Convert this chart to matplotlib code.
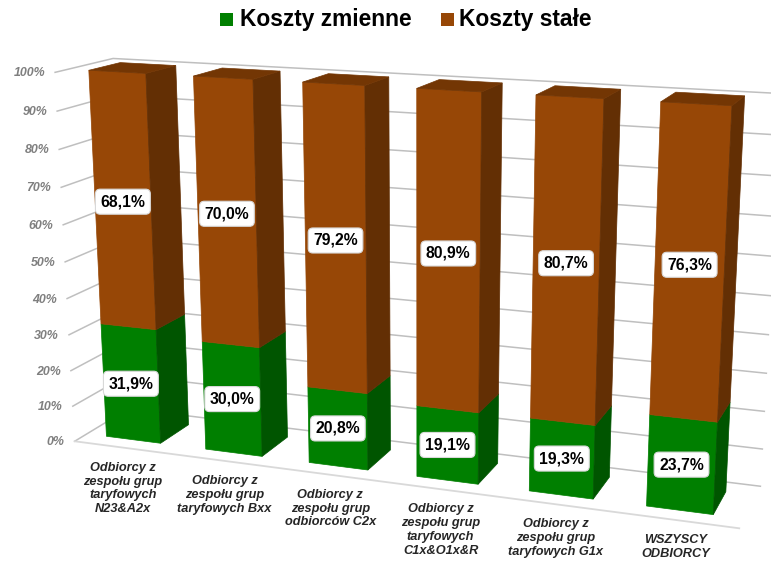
import numpy as np
import matplotlib
matplotlib.use('Agg')
import matplotlib.pyplot as plt
from matplotlib.patches import Polygon, Rectangle

categories = ['Odbiorcy z\nzespołu grup\ntaryfowych\nN23&A2x',
              'Odbiorcy z\nzespołu grup\ntaryfowych Bxx',
              'Odbiorcy z\nzespołu grup\nodbiorców C2x',
              'Odbiorcy z\nzespołu grup\ntaryfowych\nC1x&O1x&R',
              'Odbiorcy z\nzespołu grup\ntaryfowych G1x',
              'WSZYSCY\nODBIORCY']
koszty_zmienne = [31.9, 30.0, 20.8, 19.1, 19.3, 23.7]
koszty_stale = [68.1, 70.0, 79.2, 80.9, 80.7, 76.3]
y_ticks = [0, 10, 20, 30, 40, 50, 60, 70, 80, 90, 100]

plt.rcParams['font.family'] = ['Liberation Sans', 'DejaVu Sans']

# 3D look: camera fitted from the chart box and bar corners (category, depth, percent) -> pixel
BAR_X0, BAR_X1 = 0.20, 0.75
BAR_Z0, BAR_Z1 = 0.22, 0.77
calib = [((0, 0, 0), (73, 440)), ((6, 0, 0), (737, 528)), ((0, 1, 0), (128, 410)),
         ((6, 1, 0), (758, 486)), ((0, 0, 100), (53, 72)), ((0, 1, 100), (112, 58)),
         ((6, 1, 100), (779, 92)),
         ((BAR_X0, BAR_Z0, 0), (106, 436)), ((BAR_X1, BAR_Z0, 0), (162, 443)),
         ((BAR_X1, BAR_Z1, 0), (190, 424)), ((BAR_X0, BAR_Z0, 100), (89, 71)),
         ((BAR_X1, BAR_Z0, 100), (148, 74)), ((BAR_X1, BAR_Z1, 100), (177, 66)),
         ((5 + BAR_X0, BAR_Z0, 0), (647, 507)), ((5 + BAR_X1, BAR_Z0, 0), (715, 515)),
         ((5 + BAR_X1, BAR_Z1, 0), (728, 492)), ((5 + BAR_X0, BAR_Z0, 100), (660, 102)),
         ((5 + BAR_X1, BAR_Z0, 100), (733, 106)), ((5 + BAR_X1, BAR_Z1, 100), (746, 96))]

rows = []
for (wx, wz, wv), (px, py) in calib:
    w = [wx / 6, wz, wv / 100, 1]
    px, py = px / 771, py / 562
    rows.append(w + [0, 0, 0, 0] + [-px * c for c in w])
    rows.append([0, 0, 0, 0] + w + [-py * c for c in w])
cam = np.linalg.svd(np.array(rows))[2][-1].reshape(3, 4)


def proj(x, z, v):
    p = cam @ np.array([x / 6, z, v / 100, 1])
    return p[0] / p[2] * 771, p[1] / p[2] * 562


fig = plt.figure(figsize=(7.71, 5.62), dpi=100)
ax = fig.add_axes([0, 0, 1, 1])
ax.set_xlim(0, 771)
ax.set_ylim(562, 0)
ax.axis('off')

# walls
grid_c = '#bfbfbf'
for t in y_ticks:
    a, b, c = proj(0, 0, t), proj(0, 1, t), proj(6, 1, t)
    ax.plot([a[0], b[0], c[0]], [a[1], b[1], c[1]], color=grid_c, lw=1.1, zorder=1)
    ax.text(a[0] - 10, a[1] + 1, '%d%%' % t, ha='right', va='center', fontsize=8.9,
            fontweight='bold', fontstyle='italic', color='#7f7f7f')
a, b = proj(0, 0, 0), proj(6, 0, 0)
ax.plot([a[0], b[0]], [a[1], b[1]], color='#d9d9d9', lw=1.3, zorder=1)


def box(i, v0, v1, front, side, top=None):
    x0, x1 = i + BAR_X0, i + BAR_X1
    z0, z1 = BAR_Z0, BAR_Z1
    ax.add_patch(Polygon([proj(x0, z0, v0), proj(x1, z0, v0), proj(x1, z0, v1), proj(x0, z0, v1)],
                         fc=front, ec=front, lw=0.5, zorder=3))
    ax.add_patch(Polygon([proj(x1, z0, v0), proj(x1, z1, v0), proj(x1, z1, v1), proj(x1, z0, v1)],
                         fc=side, ec=side, lw=0.5, zorder=3))
    if top:
        ax.add_patch(Polygon([proj(x0, z0, v1), proj(x1, z0, v1), proj(x1, z1, v1), proj(x0, z1, v1)],
                             fc=top, ec=top, lw=0.5, zorder=3))


def bar_label(i, v, val):
    px, py = proj(i + (BAR_X0 + BAR_X1) / 2, BAR_Z0, v)
    ax.text(px, py, ('%.1f%%' % val).replace('.', ','), ha='center', va='center', fontsize=11.3,
            fontweight='bold', color='black', zorder=5,
            bbox=dict(boxstyle='round,pad=0.32,rounding_size=0.3', fc='white', ec='#d9d9d9', lw=0.8))


for i in range(len(categories)):
    g = koszty_zmienne[i]
    s = koszty_stale[i]
    box(i, 0, g, '#007f00', '#005500')
    box(i, g, g + s, '#974706', '#632f04', '#733604')
    bar_label(i, g / 2, g)
    bar_label(i, g + s / 2, s)
    px, py = proj(i + 0.5, 0, 0)
    ax.text(px - 1, py + 14, categories[i], ha='center', va='top', fontsize=9.2, linespacing=1.2,
            fontweight='bold', fontstyle='italic', color='#262626')

# legend
ax.add_patch(Rectangle((220, 13), 13, 12.5, fc='#007f00', ec='none'))
ax.text(240, 19.5, 'Koszty zmienne', ha='left', va='center', fontsize=16.4, fontweight='bold', color='black')
ax.add_patch(Rectangle((441, 13), 12.5, 12.5, fc='#974706', ec='none'))
ax.text(459, 19.5, 'Koszty stałe', ha='left', va='center', fontsize=16.4, fontweight='bold', color='black')

fig.savefig('out.png', dpi=100)
